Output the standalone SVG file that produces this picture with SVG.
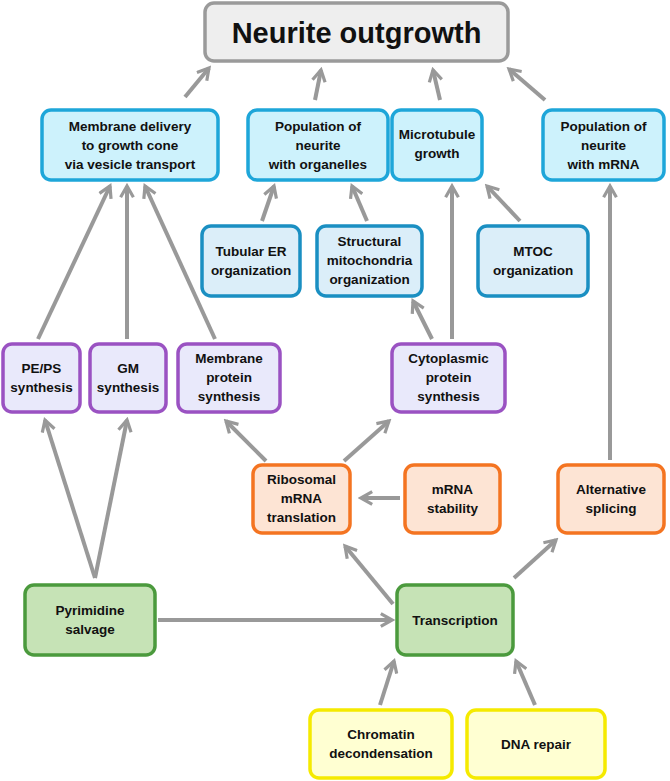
<svg xmlns="http://www.w3.org/2000/svg" width="670" height="781" viewBox="0 0 670 781">
<style>
text{font-family:"Liberation Sans",Arial,sans-serif;font-weight:bold;font-size:13.5px;fill:#111;text-anchor:middle}
rect{stroke-width:3.5}
.top{fill:#eeeeee;stroke:#9a9a9a}
.cy{fill:#cdf2fc;stroke:#1ea6d9}
.lb{fill:#dbeef9;stroke:#1a8fc2}
.pu{fill:#e9e9fb;stroke:#9a52c2}
.or{fill:#fde4d4;stroke:#f47421}
.gr{fill:#c6e3b6;stroke:#4b9a3d}
.ye{fill:#ffffd2;stroke:#f5ea00}
#connectors line{stroke:#999;stroke-width:4;marker-end:url(#ah)}
</style>
<defs><marker id="ah" viewBox="0 0 10 10" refX="8" refY="5" markerWidth="4" markerHeight="4" orient="auto" markerUnits="strokeWidth"><path d="M1,1 L8,5 L1,9" fill="none" stroke="#999" stroke-width="2"/></marker></defs>
<g id="connectors">
<line x1="185" y1="97" x2="209" y2="68"/>
<line x1="315" y1="100" x2="321" y2="70"/>
<line x1="440" y1="100" x2="433" y2="70"/>
<line x1="545" y1="100" x2="509" y2="69"/>
<line x1="262" y1="221" x2="274" y2="186"/>
<line x1="367" y1="221" x2="352" y2="186"/>
<line x1="520" y1="221" x2="487" y2="186"/>
<line x1="452" y1="339" x2="452" y2="186"/>
<line x1="432" y1="339" x2="413" y2="301"/>
<line x1="38" y1="339" x2="110" y2="186"/>
<line x1="127" y1="339" x2="127" y2="186"/>
<line x1="215" y1="339" x2="145" y2="186"/>
<line x1="610" y1="460" x2="610" y2="186"/>
<line x1="266" y1="461" x2="226" y2="421"/>
<line x1="344" y1="461" x2="389" y2="421"/>
<line x1="400" y1="498" x2="361" y2="498"/>
<line x1="393" y1="604" x2="345" y2="546"/>
<line x1="514" y1="578" x2="556" y2="540"/>
<line x1="95" y1="578" x2="45" y2="420"/>
<line x1="95" y1="578" x2="127" y2="420"/>
<line x1="158" y1="620" x2="392" y2="620"/>
<line x1="380" y1="705" x2="394" y2="661"/>
<line x1="535" y1="705" x2="516" y2="661"/>
</g>
<g id="neurite"><rect class="top" x="205" y="3" width="303" height="58" rx="9"/><text x="356.5" y="43" style="font-size:29px">Neurite outgrowth</text></g>
<g id="membdel"><rect class="cy" x="42" y="110" width="176" height="70" rx="9"/><text x="130" y="131">Membrane delivery</text><text x="130" y="150">to growth cone</text><text x="130" y="169">via vesicle transport</text></g>
<g id="poporg"><rect class="cy" x="248" y="110" width="140" height="70" rx="9"/><text x="318" y="131">Population of</text><text x="318" y="150">neurite</text><text x="318" y="169">with organelles</text></g>
<g id="micro"><rect class="cy" x="392" y="110" width="90" height="70" rx="9"/><text x="437" y="139">Microtubule</text><text x="437" y="158">growth</text></g>
<g id="popmrna"><rect class="cy" x="543" y="110" width="121" height="70" rx="9"/><text x="603.5" y="131">Population of</text><text x="603.5" y="150">neurite</text><text x="603.5" y="169">with mRNA</text></g>
<g id="ter"><rect class="lb" x="202" y="226" width="98" height="70" rx="9"/><text x="251" y="256">Tubular ER</text><text x="251" y="275">organization</text></g>
<g id="mito"><rect class="lb" x="317" y="226" width="105" height="70" rx="9"/><text x="369.5" y="246">Structural</text><text x="369.5" y="265">mitochondria</text><text x="369.5" y="284">organization</text></g>
<g id="mtoc"><rect class="lb" x="478" y="226" width="110" height="70" rx="9"/><text x="533" y="256">MTOC</text><text x="533" y="275">organization</text></g>
<g id="peps"><rect class="pu" x="3" y="344" width="77" height="68" rx="9"/><text x="41.5" y="373">PE/PS</text><text x="41.5" y="392">synthesis</text></g>
<g id="gm"><rect class="pu" x="90" y="344" width="76" height="68" rx="9"/><text x="128" y="373">GM</text><text x="128" y="392">synthesis</text></g>
<g id="memprot"><rect class="pu" x="178" y="344" width="102" height="68" rx="9"/><text x="229" y="363">Membrane</text><text x="229" y="382">protein</text><text x="229" y="401">synthesis</text></g>
<g id="cyto"><rect class="pu" x="392" y="344" width="113" height="68" rx="9"/><text x="448.5" y="363">Cytoplasmic</text><text x="448.5" y="382">protein</text><text x="448.5" y="401">synthesis</text></g>
<g id="ribo"><rect class="or" x="253" y="465" width="97" height="68" rx="9"/><text x="301.5" y="484">Ribosomal</text><text x="301.5" y="503">mRNA</text><text x="301.5" y="522">translation</text></g>
<g id="mstab"><rect class="or" x="405" y="465" width="95" height="68" rx="9"/><text x="452.5" y="494">mRNA</text><text x="452.5" y="513">stability</text></g>
<g id="alt"><rect class="or" x="558" y="465" width="106" height="68" rx="9"/><text x="611" y="494">Alternative</text><text x="611" y="513">splicing</text></g>
<g id="pyr"><rect class="gr" x="25" y="585" width="130" height="70" rx="9"/><text x="90" y="615">Pyrimidine</text><text x="90" y="634">salvage</text></g>
<g id="trans"><rect class="gr" x="397" y="585" width="116" height="70" rx="9"/><text x="455" y="625">Transcription</text></g>
<g id="chrom"><rect class="ye" x="310" y="710" width="142" height="68" rx="9"/><text x="381" y="739">Chromatin</text><text x="381" y="758">decondensation</text></g>
<g id="dna"><rect class="ye" x="467" y="710" width="138" height="68" rx="9"/><text x="536" y="749">DNA repair</text></g>
</svg>
